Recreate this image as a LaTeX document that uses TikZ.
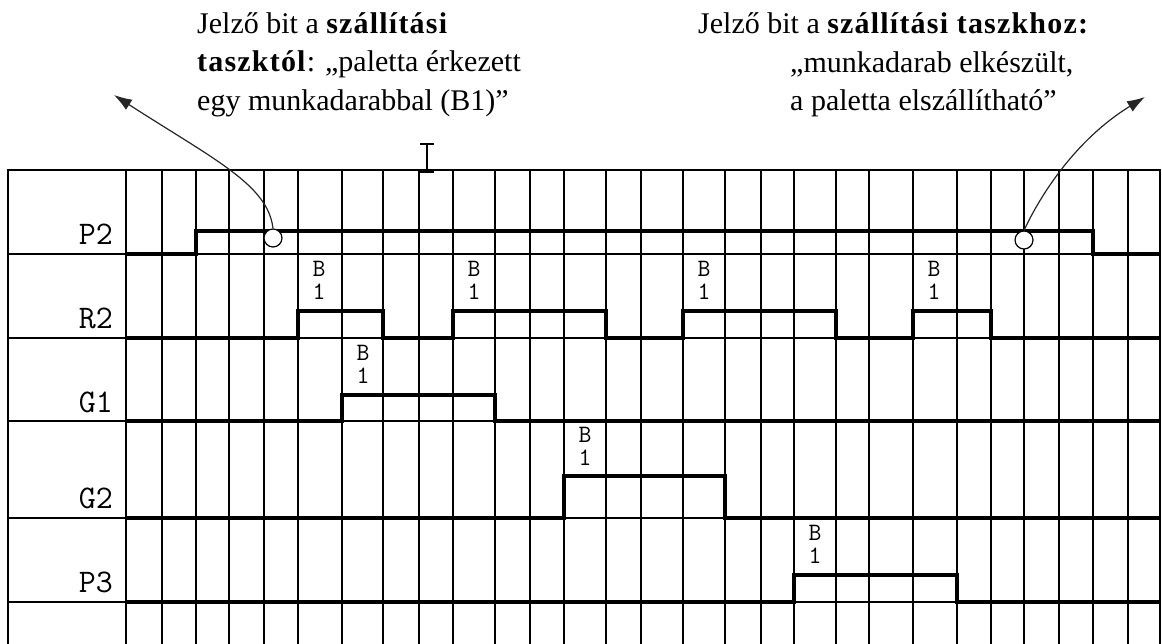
\documentclass[tikz,border=0pt]{standalone}
\usepackage{fontspec}
\setmainfont{Liberation Serif}[BoldFeatures={LetterSpace=4}]
\usetikzlibrary{arrows.meta}

\begin{document}
\begin{tikzpicture}[
    x=1pt, y=-1pt,
    gridline/.style={line width=1.3pt},
    signal/.style={line width=4.8pt, line join=miter},
    rowlabel/.style={anchor=base east, inner sep=0pt, font=\ttfamily\fontsize{33}{34}\selectfont},
    piece/.style={anchor=south, inner sep=0pt, align=center, font=\ttfamily\fontsize{25}{23}\selectfont},
    note/.style={anchor=north west, inner sep=0pt, align=left, font=\fontsize{30}{38.5}\selectfont},
    bitmark/.style={draw, circle, fill=white, minimum size=18pt, inner sep=0pt, line width=1.2pt},
    pointer/.style={-{Latex[length=18pt, width=12pt]}, line width=1.2pt, black!85}
]
\useasboundingbox (0,0) rectangle (1162,644);

    % 1. Grid
    \draw[gridline] (8,644) -- (8,170) -- (1160,170) -- (1160,644);
    \foreach \y in {254,338,421,518,602}
        \draw[gridline] (8,\y) -- (1160,\y);
    \foreach \x in {126,162,196,229,264,298,342,383,419,453,495,530,564,606,641,683,725,761,794,836,869,913,957,991,1024,1059,1093,1128}
        \draw[gridline] (\x,170) -- (\x,644);

    % 2. Row labels
    \node[rowlabel] (lblP2) at (113,245) {P2};
    \node[rowlabel] (lblR2) at (113,328) {R2};
    \node[rowlabel] (lblG1) at (113,412) {G1};
    \node[rowlabel] (lblG2) at (113,508) {G2};
    \node[rowlabel] (lblP3) at (113,592) {P3};

    % 3. Signals
    \draw[signal] (126,254) -| (196,231) -| (1093,254) -- (1160,254);
    \draw[signal] (126,338) -| (298,311) -| (383,338) -| (453,311) -| (606,338)
        -| (683,311) -| (836,338) -| (913,311) -| (991,338) -- (1160,338);
    \draw[signal] (126,421) -| (342,395) -| (495,421) -- (1160,421);
    \draw[signal] (126,518) -| (564,476) -| (725,518) -- (1160,518);
    \draw[signal] (126,602) -| (794,575) -| (957,602) -- (1160,602);

    % 4. Piece labels
    \node[piece] (pcR2a) at (319,300) {B\\1};
    \node[piece] (pcR2b) at (474,300) {B\\1};
    \node[piece] (pcR2c) at (704,300) {B\\1};
    \node[piece] (pcR2d) at (934,300) {B\\1};
    \node[piece] (pcG1) at (363,384) {B\\1};
    \node[piece] (pcG2) at (585,466) {B\\1};
    \node[piece] (pcP3) at (815,564) {B\\1};

    % 5. Signal bits and notes
    \node[bitmark] (markIn) at (273,238) {};
    \node[bitmark] (markOut) at (1024,240) {};

    \node[note] (noteIn) at (197,12) {Jelző bit a \textbf{szállítási}\\\textbf{taszktól}: „paletta érkezett\\egy munkadarabbal (B1)”};
    \node[note] (noteOutA) at (698,12) {Jelző bit a \textbf{szállítási taszkhoz:}};
    \node[note] (noteOutB) at (790,51) {„munkadarab elkészült,\\a paletta elszállítható”};

    \coordinate (tipIn) at (114,95);
    \coordinate (tipOut) at (1145,97);
    \draw[pointer] (markIn.north) .. controls (268,185) and (215,160) .. (tipIn);
    \draw[pointer] (markOut.north) .. controls (1040,196) and (1075,140) .. (tipOut);

    % cursor
    \draw[line width=1.5pt] (420,144) -- (434,144) (427,144) -- (427,172) (420,172) -- (434,172);

\end{tikzpicture}
\end{document}
